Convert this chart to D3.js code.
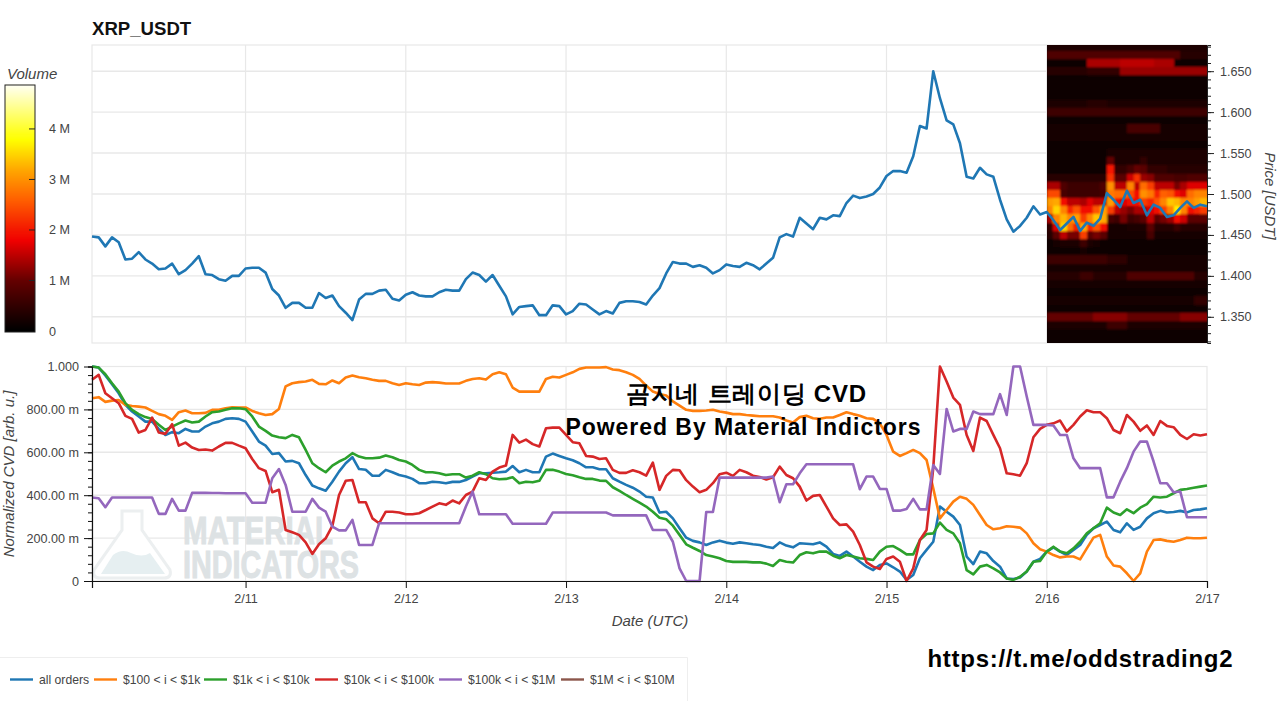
<!DOCTYPE html>
<html>
<head>
<meta charset="utf-8">
<script src="https://cdn.jsdelivr.net/npm/d3@7"></script>
<style>
html, body { margin: 0; padding: 0; background: #fff; overflow: hidden; }
text { font-family: "Liberation Sans", Arial, sans-serif; }
.axis text { fill: #444; font-size: 12.6px; }
.axis-title { fill: #444; font-size: 15px; font-style: italic; }
</style>
</head>
<body>
<svg id="chart" width="1280" height="701"></svg>
<script>
// hourly series, first point is 2/10 01:00 UTC, last is 2/17 00:00 UTC
const firstHour = new Date(Date.UTC(2026, 1, 10, 1));
const dayTicks = [11, 12, 13, 14, 15, 16, 17];

const priceValues = [
  1.448,1.447,1.436,1.447,1.441,1.420,1.421,1.429,1.420,1.415,1.408,1.409,1.415,1.402,1.407,1.415,1.424,1.402,1.401,1.396,
  1.394,1.400,1.400,1.409,1.410,1.410,1.404,1.384,1.376,1.361,1.367,1.367,1.361,1.361,1.379,1.373,1.376,1.363,1.355,1.346,
  1.371,1.378,1.378,1.382,1.383,1.372,1.370,1.377,1.380,1.376,1.375,1.375,1.380,1.383,1.382,1.382,1.396,1.404,1.401,1.393,
  1.401,1.388,1.375,1.353,1.362,1.363,1.364,1.352,1.352,1.364,1.363,1.353,1.357,1.366,1.365,1.359,1.353,1.357,1.354,1.367,
  1.369,1.369,1.368,1.365,1.376,1.385,1.403,1.417,1.415,1.415,1.411,1.413,1.410,1.403,1.407,1.414,1.412,1.411,1.416,1.413,
  1.408,1.415,1.422,1.447,1.451,1.448,1.471,1.464,1.457,1.471,1.469,1.474,1.473,1.489,1.498,1.495,1.497,1.500,1.508,1.522,
  1.528,1.528,1.526,1.546,1.583,1.580,1.650,1.617,1.590,1.585,1.562,1.521,1.519,1.532,1.524,1.521,1.493,1.469,1.454,1.461,
  1.471,1.485,1.475,1.478,1.468,1.456,1.464,1.472,1.455,1.465,1.461,1.470,1.501,1.493,1.484,1.504,1.489,1.493,1.474,1.487,
  1.483,1.472,1.474,1.483,1.491,1.483,1.487,1.485
];

const allOrders = [
  1000,995,958,917,875,821,790,767,743,743,709,681,694,689,709,697,697,720,735,743,
  756,759,756,743,697,650,631,592,596,557,560,549,494,445,432,421,463,510,549,577,
  522,519,491,491,518,507,494,487,476,456,456,463,460,456,462,462,471,487,502,502,
  505,507,510,536,507,518,507,507,580,594,583,572,563,549,530,530,521,521,479,463,
  448,435,417,393,389,319,323,292,246,202,187,180,168,180,188,179,174,180,176,171,
  168,160,154,180,165,157,176,174,171,180,160,126,117,137,114,90,67,51,75,82,
  64,44,5,28,106,145,183,347,323,300,261,114,79,137,129,93,67,12,9,16,
  44,90,103,137,157,137,121,145,168,215,246,261,277,238,227,269,238,253,292,316,
  327,319,322,327,320,331,334,339
];
const size100to1k = [
  852,857,835,841,844,821,816,813,809,793,778,770,751,787,795,782,782,784,798,798,
  805,810,809,809,793,782,774,778,802,907,922,927,930,938,919,917,935,922,949,958,
  950,945,938,933,933,922,914,922,917,914,925,927,925,921,921,921,933,942,945,939,
  964,973,964,902,883,883,883,883,942,952,949,961,973,989,995,995,995,997,986,983,
  973,961,942,911,883,872,865,837,818,798,793,793,795,798,790,785,778,778,774,771,
  768,768,768,762,748,739,764,770,759,756,762,762,774,787,778,770,759,756,735,681,
  603,583,596,611,596,564,432,292,331,370,393,383,355,308,261,241,246,255,253,249,
  222,176,148,137,121,110,114,114,101,152,202,215,114,72,67,36,0,36,137,191,
  194,187,183,191,202,199,199,202
];
const size1kto10k = [
  1000,995,964,922,883,829,798,778,764,755,728,704,720,735,748,739,743,767,787,790,
  798,805,805,801,767,720,700,678,670,666,681,670,611,549,526,507,538,557,572,596,
  580,572,572,575,585,577,564,557,541,518,507,507,502,494,498,498,482,491,507,498,
  479,474,476,484,456,463,460,467,518,519,510,499,493,484,476,476,468,467,437,420,
  401,383,365,347,323,295,288,258,215,171,155,140,121,114,106,93,89,90,89,87,
  87,81,70,98,90,86,121,134,129,137,137,118,106,121,114,106,103,98,137,160,
  163,145,124,124,191,219,222,272,238,222,176,51,31,67,75,59,40,12,5,20,
  44,90,93,137,160,137,129,152,183,222,246,269,342,319,308,334,316,342,358,393,
  389,393,409,425,429,435,440,445
];
const size10kto100k = [
  938,961,875,852,829,770,756,692,704,762,692,686,731,631,645,622,611,613,608,627,
  644,644,631,619,569,526,513,414,425,238,227,215,180,126,171,199,257,401,467,471,
  367,367,292,269,323,323,319,311,311,316,331,347,362,355,375,362,401,417,479,471,
  510,529,538,681,645,659,638,627,712,715,715,681,647,642,583,580,569,572,518,504,
  504,516,507,491,552,425,490,518,516,470,440,414,425,456,498,505,490,518,507,491,
  485,473,484,533,494,479,440,375,397,401,347,292,261,264,230,168,87,67,56,103,
  114,90,0,59,191,238,526,1000,930,855,821,681,606,762,746,681,619,502,498,491,
  549,670,709,728,735,748,697,728,767,796,787,787,759,704,689,774,743,700,725,681,
  746,723,717,681,662,684,678,684
];
const size100kto1m = [
  389,386,344,389,389,389,389,389,389,389,313,313,383,328,328,411,411,411,410,410,
  409,409,409,409,365,365,365,479,522,448,323,323,323,383,342,323,253,236,236,285,
  168,168,168,269,269,269,269,269,269,269,269,269,269,269,269,269,347,417,311,311,
  311,311,311,267,267,267,267,267,267,319,319,319,319,319,319,319,319,319,306,306,
  306,306,306,306,238,238,238,183,59,0,0,0,322,322,482,482,482,482,482,482,
  482,482,487,367,451,451,502,544,544,544,544,544,544,544,544,428,487,487,429,429,
  328,328,336,383,334,334,541,499,802,697,709,709,790,778,778,778,871,774,1000,1000,
  860,728,728,728,725,681,681,572,526,526,526,526,390,390,463,526,603,650,650,557,
  456,456,414,417,297,297,297,297
];
const size1mto10m = [];

const seriesNames = ["all orders", "$100 < i < $1k", "$1k < i < $10k", "$10k < i < $100k", "$100k < i < $1M", "$1M < i < $10M"];
const seriesColors = ["#1f77b4", "#ff7f0e", "#2ca02c", "#d62728", "#9467bd", "#8c564b"];
const seriesValues = [allOrders, size100to1k, size1kto10k, size10kto100k, size100kto1m, size1mto10m];

const volumeTicks = [0, 1, 2, 3, 4];
const priceTicks = [1.35, 1.4, 1.45, 1.5, 1.55, 1.6, 1.65];
const cvdTicks = [0, 200, 400, 600, 800, 1000];

// order book volume in millions, price bins top to bottom, one column per hour from 2/16 00:00
const heatBins = [1.68,1.67,1.66,1.65,1.64,1.63,1.62,1.61,1.60,1.59,1.58,1.57,1.56,1.55,1.54,1.53,1.52,1.51,1.50,1.49,1.48,1.47,1.46,1.45,1.44,1.43,1.42,1.41,1.40,1.39,1.38,1.37,1.36,1.35,1.34,1.33,1.32];
const heatRows = [
  [.3,.3,.3,.3,.3,.3,.3,.3,.3,.3,.3,.3,.3,.3,.3,.3,.3,.3,.3,.3,.3,.3,.3,.3],
  [.8,.8,.8,.8,.8,.8,.8,.8,.8,.8,.8,.8,.8,.8,.8,.8,.8,.8,.8,.8,.4,.4,.4,.4],
  [.1,.1,.1,.1,.1,.1,1.4,1.4,1.4,1.4,1.4,1.5,1.5,1.5,1.5,1.5,1.4,1.4,1.4,.15,.15,.15,.15,.15],
  [.4,.4,.4,.4,.4,.4,.5,.5,.5,.5,.5,1.3,1.3,1.3,1.3,1.3,1.3,1.3,1.3,1.3,1.3,1.3,1.3,1.3],
  [.1,.1,.1,.1,.1,.1,.1,.1,.1,.1,.1,.1,.1,.1,.1,.1,.1,.1,.1,.1,.1,.1,.1,.1],
  [.15,.15,.15,.15,.15,.15,.15,.15,.15,.15,.15,.15,.15,.15,.15,.15,.15,.15,.15,.15,.15,.15,.15,.15],
  [.15,.15,.15,.15,.15,.15,.15,.15,.15,.15,.15,.15,.15,.15,.15,.15,.15,.15,.15,.15,.15,.15,.15,.15],
  [.3,.3,.3,.3,.3,.3,.4,.4,.4,.3,.3,.3,.3,.3,.3,.3,.3,.3,.3,.3,.3,.3,.3,.3],
  [.6,.6,.6,.6,.6,.6,.6,.6,.6,.6,.6,.6,.6,.6,.6,.6,.6,.6,.6,.6,.6,.6,.6,.6],
  [.08,.08,.08,.08,.08,.08,.08,.08,.08,.08,.08,.08,.08,.08,.08,.08,.08,.08,.08,.08,.08,.08,.08,.08],
  [.2,.2,.2,.2,.2,.2,.2,.2,.2,.2,.2,.2,.7,.7,.7,.7,.7,.2,.2,.2,.2,.2,.2,.2],
  [.2,.2,.2,.2,.2,.2,.2,.2,.2,.2,.2,.2,.2,.2,.2,.2,.2,.2,.2,.2,.2,.2,.2,.2],
  [.15,.15,.15,.15,.15,.15,.15,.15,.15,.15,.15,.15,.15,.15,.15,.15,.15,.15,.15,.15,.15,.15,.15,.15],
  [.1,.1,.1,.1,.1,.1,.1,.1,.1,.3,.3,.3,.3,.3,.3,.3,.3,.3,.3,.3,.3,.3,.3,.3],
  [.15,.15,.15,.15,.15,.15,.15,.15,.15,1,.3,.3,.3,.3,.5,.3,.3,.3,.3,.3,.3,.3,.3,.3],
  [.1,.1,.1,.1,.1,.1,.1,.1,.1,2,.5,.5,.7,1,.9,.5,.5,.5,.4,.4,.4,.4,.4,.4],
  [.4,.4,.4,.4,.4,.4,.4,.4,.4,2.2,.9,.9,1.6,2.2,1.3,1.2,.8,.8,.8,.7,.7,.8,.8,.8],
  [1.4,1.4,.8,.6,.6,.6,.6,.6,.8,3,1.5,1.5,2.9,1.5,2.7,2.3,1.5,1.5,1.5,1.1,1.4,1.7,1.7,1.7],
  [2.4,2.4,.7,.6,.6,.6,.6,.6,.7,2.8,2.7,2.7,2.4,1.9,3,2.8,2.1,2.6,2.5,1.9,1.7,2.7,2.9,2.9],
  [3.1,3.2,1.9,1.5,1.5,1.4,1.7,1.5,1.5,3.1,1.9,1.7,1.9,1.9,2.3,2.1,2.5,2.9,3.4,3.3,2.9,2.9,3.1,3.3],
  [2.9,3.5,2.9,2.1,2.5,1.9,1.9,2.5,3.1,2.3,1.5,1.3,1.1,1.4,1.4,1.7,1.9,2.3,2.9,3.7,2.9,1.9,2.1,2.3],
  [1.4,2.9,3.3,2.9,3.1,2.3,2.9,3.4,3.2,.7,.6,1.1,.6,.7,.9,1.5,.9,1.1,1.3,1.9,1.6,.9,.9,.9],
  [.5,1.7,3.5,2.7,2.1,3.2,2.1,2.5,1.9,.25,.25,.25,.3,.3,.3,.9,.4,.4,.4,.6,.4,.4,.4,.4],
  [.4,.9,1.5,1.1,1.1,2.3,.9,1.1,.9,.25,.25,.25,.25,.25,.25,.7,.25,.25,.25,.25,.25,.25,.25,.25],
  [.1,.25,.3,.3,.3,.6,.3,.25,.15,.15,.15,.15,.15,.15,.15,.15,.15,.15,.15,.15,.15,.15,.15,.15],
  [.1,.1,.1,.1,.1,.25,.1,.1,.1,.1,.1,.1,.1,.1,.1,.1,.1,.1,.1,.1,.1,.1,.1,.1],
  [.6,.6,.6,.6,.6,.6,.6,.6,.6,.45,.45,.45,.2,.2,.2,.2,.2,.2,.2,.2,.2,.2,.2,.2],
  [.25,.25,.25,.25,.25,.25,.25,.25,.25,.25,.25,.25,.25,.25,.25,.25,.25,.25,.25,.25,.25,.25,.25,.25],
  [.4,.4,.4,.4,.4,.6,.6,.4,.4,.4,.4,.4,.8,.8,.8,.8,.8,.8,.8,.8,.8,.8,.4,.4],
  [.2,.2,.2,.2,.2,.2,.2,.2,.2,.2,.2,.2,.2,.2,.2,.2,.2,.2,.2,.2,.2,.2,.2,.2],
  [.1,.1,.1,.1,.1,.1,.1,.1,.1,.15,.15,.15,.15,.15,.15,.15,.15,.15,.15,.15,.15,.15,.15,.15],
  [.25,.25,.25,.25,.25,.25,.25,.25,.25,.25,.25,.25,.25,.25,.25,.25,.25,.25,.25,.25,.25,.25,.5,.5],
  [.08,.08,.08,.08,.08,.08,.08,.08,.08,.08,.08,.08,.08,.08,.08,.08,.08,.08,.08,.08,.08,.08,.08,.08],
  [1,1,1,1,1,1,1,1.2,1.2,1.2,1.2,1.2,1,1,1,1,1,1,1,1,1.2,1.2,1.2,1.2],
  [.3,.3,.3,.3,.3,.3,.3,.3,.3,.6,.6,.6,.3,.3,.3,.3,.3,.3,.3,.3,.3,.3,.3,.3],
  [.15,.15,.15,.15,.15,.15,.15,.15,.15,.15,.15,.15,.15,.15,.15,.15,.15,.15,.15,.15,.15,.15,.15,.15],
  [.1,.1,.1,.1,.1,.1,.1,.1,.1,.1,.1,.1,.1,.1,.1,.1,.1,.1,.1,.1,.1,.1,.1,.1]
];

const hours = priceValues.map((d, i) => d3.utcHour.offset(firstHour, i));
const dayDates = dayTicks.map(d => new Date(Date.UTC(2026, 1, d)));

const svg = d3.select("#chart");
const left = 92, right = 1207;

const x = d3.scaleUtc().domain([hours[0], hours[hours.length - 1]]).range([left, right]);
const yPrice = d3.scaleLinear().domain([1.318, 1.682]).range([343, 45]);
const yCvd = d3.scaleLinear().domain([0, 1000]).range([581, 366.5]);
const yVolume = d3.scaleLinear().domain([0, 4.87]).range([331, 85]);
const heatColor = d3.scaleLinear()
  .domain([0, 1, 1.8, 2.6, 3.2, 3.8, 4.87])
  .range(["#000000", "#640000", "#f00000", "#ff6000", "#ffa800", "#ffff00", "#fffff4"])
  .clamp(true);

const gridColor = "#e8e8e8";

const defs = svg.append("defs");
defs.append("filter").attr("id", "soft").attr("x", "0").attr("y", "0").attr("width", "1").attr("height", "1")
  .append("feGaussianBlur").attr("stdDeviation", "0.9 1.1");

// title
svg.append("text").attr("x", 92).attr("y", 35).attr("font-size", 18.6).attr("font-weight", "bold").attr("fill", "#111").text("XRP_USDT");

// price panel frame and grid
svg.append("rect").attr("x", left).attr("y", 45).attr("width", right - left).attr("height", 298)
  .attr("fill", "#fff").attr("stroke", gridColor).attr("stroke-width", 1.2);
svg.append("g").selectAll("line").data(priceTicks).join("line")
  .attr("x1", left).attr("x2", right).attr("y1", d => yPrice(d)).attr("y2", d => yPrice(d))
  .attr("stroke", gridColor).attr("stroke-width", 1.4);
svg.append("g").selectAll("line").data(dayDates.slice(0, -1)).join("line")
  .attr("x1", d => x(d)).attr("x2", d => x(d)).attr("y1", 45).attr("y2", 343)
  .attr("stroke", gridColor).attr("stroke-width", 1.2);

// heatmap
defs.append("clipPath").attr("id", "heatClip").append("rect").attr("x", 1047).attr("y", 45).attr("width", right - 1047).attr("height", 298);
const heatStart = hours.length - 25;
const heatX = d3.scaleLinear().domain([0, 24]).range([x(hours[heatStart]), x(hours[hours.length - 1])]);
const heatOuter = svg.append("g").attr("clip-path", "url(#heatClip)");
const heatG = heatOuter.append("g").attr("filter", "url(#soft)");
heatG.append("rect").attr("x", heatX(0) - 4).attr("y", 40).attr("width", heatX(24) - heatX(0) + 8).attr("height", 308).attr("fill", "#100000");
heatBins.forEach((bin, r) => {
  heatG.append("g").attr("shape-rendering", "crispEdges").selectAll("rect").data(heatRows[r]).join("rect")
    .attr("x", (d, c) => heatX(c))
    .attr("width", heatX(1) - heatX(0) + 0.5)
    .attr("y", yPrice(bin + 0.005))
    .attr("height", yPrice(bin - 0.005) - yPrice(bin + 0.005) + 0.5)
    .attr("fill", d => heatColor(d));
});

// price line
const priceLine = d3.line().x((d, i) => x(hours[i])).y(d => yPrice(d));
svg.append("path").datum(priceValues).attr("d", priceLine)
  .attr("fill", "none").attr("stroke", seriesColors[0]).attr("stroke-width", 2.6).attr("stroke-linejoin", "round");

// right price axis, minor ticks then major
svg.append("g").attr("class", "axis").attr("transform", `translate(${right},0)`)
  .call(d3.axisRight(yPrice).tickValues(d3.range(1.32, 1.681, 0.01)).tickSize(4).tickFormat(""))
  .call(g => g.selectAll("line").attr("stroke", "#222"))
  .call(g => g.select(".domain").attr("stroke", "#222"));
svg.append("g").attr("class", "axis").attr("transform", `translate(${right},0)`)
  .call(d3.axisRight(yPrice).tickValues(priceTicks).tickSize(7).tickPadding(6).tickFormat(d3.format(".3f")))
  .call(g => g.selectAll("line").attr("stroke", "#222"))
  .call(g => g.select(".domain").remove());
svg.append("text").attr("class", "axis-title")
  .attr("transform", "translate(1265,196) rotate(90)").attr("text-anchor", "middle").text("Price [USDT]");

// colour bar
const barSteps = d3.range(0, 4.87, 0.02);
svg.append("g").attr("shape-rendering", "crispEdges").selectAll("rect").data(barSteps).join("rect")
  .attr("x", 5).attr("width", 30)
  .attr("y", d => yVolume(d + 0.02)).attr("height", d => yVolume(d) - yVolume(d + 0.02) + 0.5)
  .attr("fill", d => heatColor(d));
svg.append("rect").attr("x", 5).attr("y", 85).attr("width", 30).attr("height", 247)
  .attr("fill", "none").attr("stroke", "#222").attr("stroke-width", 1);
svg.append("g").selectAll("line").data(volumeTicks.slice(1)).join("line")
  .attr("x1", 29).attr("x2", 35).attr("y1", d => yVolume(d)).attr("y2", d => yVolume(d)).attr("stroke", "#222");
svg.append("g").selectAll("text").data(volumeTicks).join("text")
  .attr("x", 49).attr("y", d => yVolume(d) + 4.5).attr("font-size", 12.6).attr("fill", "#444")
  .text(d => d === 0 ? "0" : d + " M");
svg.append("text").attr("class", "axis-title").attr("x", 7).attr("y", 79).text("Volume");

// CVD panel frame and grid
svg.append("rect").attr("x", left).attr("y", 366.5).attr("width", right - left).attr("height", 214.5)
  .attr("fill", "#fff").attr("stroke", gridColor).attr("stroke-width", 1.2);
svg.append("g").selectAll("line").data(cvdTicks.slice(1, -1)).join("line")
  .attr("x1", left).attr("x2", right).attr("y1", d => yCvd(d)).attr("y2", d => yCvd(d))
  .attr("stroke", gridColor).attr("stroke-width", 1.4);
svg.append("g").selectAll("line").data(dayDates.slice(0, -1)).join("line")
  .attr("x1", d => x(d)).attr("x2", d => x(d)).attr("y1", 366.5).attr("y2", 581)
  .attr("stroke", gridColor).attr("stroke-width", 1.2);

// watermark
const mark = svg.append("g");
mark.append("path")
  .attr("d", "M122,511 H142 V530 L170,570 Q172,578 164,578 H100 Q92,578 94,570 L122,530 Z")
  .attr("fill", "#fff").attr("stroke", "#eceff0").attr("stroke-width", 3);
mark.append("path")
  .attr("d", "M101,574 L113,555 Q122,548 131,553 Q142,558 150,553 L165,574 Z")
  .attr("fill", "#e6eff1");
mark.selectAll("text.wm").data([["MATERIAL", 544, 150], ["INDICATORS", 578, 176]]).join("text")
  .attr("x", 183).attr("y", d => d[1]).attr("font-family", "Liberation Sans Narrow, Liberation Sans")
  .attr("font-weight", "bold").attr("font-size", 38).attr("fill", "#dde2e4").attr("stroke", "#dde2e4").attr("stroke-width", 1)
  .attr("textLength", d => d[2]).attr("lengthAdjust", "spacingAndGlyphs").text(d => d[0]);

// CVD lines
const cvdLine = d3.line().x((d, i) => x(hours[i])).y(d => yCvd(d));
svg.append("g").selectAll("path").data(seriesValues).join("path")
  .attr("d", d => cvdLine(d))
  .attr("fill", "none").attr("stroke", (d, i) => seriesColors[i]).attr("stroke-width", 2.6).attr("stroke-linejoin", "round");

// CVD axes
const cvdFormat = d => d === 0 ? "0" : d === 1000 ? "1.000" : d3.format(".2f")(d) + " m";
svg.append("g").attr("class", "axis").attr("transform", `translate(${left},0)`)
  .call(d3.axisLeft(yCvd).tickValues(d3.range(0, 1001, 40)).tickSize(4).tickFormat(""))
  .call(g => g.selectAll("line").attr("stroke", "#111"))
  .call(g => g.select(".domain").attr("stroke", "#111").attr("stroke-width", 1.2));
svg.append("g").attr("class", "axis").attr("transform", `translate(${left},0)`)
  .call(d3.axisLeft(yCvd).tickValues(cvdTicks).tickSize(8).tickPadding(5).tickFormat(cvdFormat))
  .call(g => g.selectAll("line").attr("stroke", "#111"))
  .call(g => g.select(".domain").remove());
svg.append("g").attr("class", "axis").attr("transform", "translate(0,581)")
  .call(d3.axisBottom(x).tickValues(dayDates).tickSize(7).tickPadding(6).tickFormat(d3.utcFormat("%-m/%-d")))
  .call(g => g.selectAll("line").attr("stroke", "#111"))
  .call(g => g.select(".domain").attr("stroke", "#111").attr("stroke-width", 1.2));
svg.append("text").attr("class", "axis-title")
  .attr("transform", "translate(14,474) rotate(-90)").attr("text-anchor", "middle").text("Normalized CVD [arb. u.]");
svg.append("text").attr("class", "axis-title").attr("x", 650).attr("y", 626).attr("text-anchor", "middle").text("Date (UTC)");

// overlay captions
const caption = (txt, cx, cy, size, width) => svg.append("text").attr("x", cx).attr("y", cy).attr("text-anchor", "middle")
  .attr("font-family", "Noto Sans CJK KR").attr("font-weight", "bold").attr("font-size", size).attr("fill", "#000")
  .attr("textLength", width).attr("lengthAdjust", "spacing").text(txt);
caption("곰지네 트레이딩 CVD", 746, 402, 24, 240);
caption("Powered By Material Indictors", 743, 435, 23, 355);
caption("https://t.me/oddstrading2", 1080, 667, 24, 305);

// legend
svg.append("path").attr("d", "M0,657.5 H687.5 V701").attr("fill", "none").attr("stroke", "#eeeeee");
const legendStarts = [10, 94, 204, 315, 439, 561];
const legend = svg.append("g").selectAll("g").data(seriesNames).join("g")
  .attr("transform", (d, i) => `translate(${legendStarts[i]},679.5)`);
legend.append("line").attr("x1", 0).attr("x2", 23).attr("stroke-width", 2.4).attr("stroke", (d, i) => seriesColors[i]);
legend.append("text").attr("x", 29).attr("y", 4).attr("font-size", 12.2).attr("fill", "#444").text(d => d);
</script>
</body>
</html>
